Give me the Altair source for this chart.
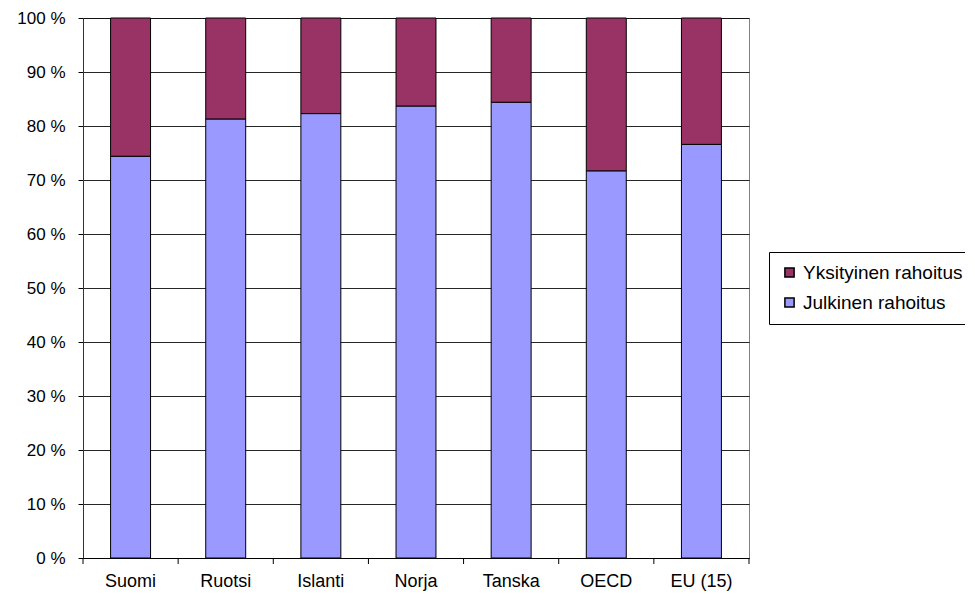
import altair as alt
import pandas as pd

maat = ["Suomi", "Ruotsi", "Islanti", "Norja", "Tanska", "OECD", "EU (15)"]
julkinen = [74.4, 81.3, 82.3, 83.7, 84.4, 71.7, 76.6]
yksityinen = [25.6, 18.7, 17.7, 16.3, 15.6, 28.3, 23.4]
sarjat = ["Yksityinen rahoitus", "Julkinen rahoitus"]
varit = ["#993366", "#9999FF"]
y_ticks = list(range(0, 101, 10))

rows = []
for m, j, y in zip(maat, julkinen, yksityinen):
    rows.append({"maa": m, "sarja": "Julkinen rahoitus", "arvo": j, "jarj": 0})
    rows.append({"maa": m, "sarja": "Yksityinen rahoitus", "arvo": y, "jarj": 1})
df = pd.DataFrame(rows)

FONT = "Liberation Sans"
W, H = 666, 540
P_IN, P_OUT = 0.58, 0.29
STEP = W / len(maat)
GAP = P_IN * STEP / 2  # half of the gap between bands, in pixels

xscale = alt.Scale(domain=maat, paddingInner=P_IN, paddingOuter=P_OUT)

bars = alt.Chart(df).mark_bar(stroke="black", strokeWidth=1).encode(
    x=alt.X("maa:N", sort=maat, title=None, scale=xscale,
            axis=alt.Axis(labelAngle=0, ticks=False,
                          labelFontSize=18, labelFont=FONT, labelColor="black",
                          domainColor="black", labelPadding=14, grid=False)),
    y=alt.Y("arvo:Q", stack="zero", title=None,
            scale=alt.Scale(domain=[0, 100], nice=False),
            axis=alt.Axis(values=y_ticks, labelExpr="datum.value + ' %'",
                          labelFontSize=17, labelFont=FONT, labelColor="black",
                          domainColor="#333333", tickColor="black", tickSize=5,
                          labelPadding=13, gridColor="black", gridOpacity=0.85)),
    color=alt.Color("sarja:N", scale=alt.Scale(domain=sarjat, range=varit),
                    legend=alt.Legend(title=None, orient="none", legendX=686, legendY=234,
                                      symbolType="square", symbolSize=85,
                                      symbolStrokeColor="black", symbolStrokeWidth=1.5,
                                      labelFontSize=19, labelFont=FONT, labelColor="black",
                                      strokeColor="black", padding=11, rowPadding=10,
                                      labelOffset=4, fillColor="white")),
    order=alt.Order("jarj:Q"),
)

ticks_df = pd.DataFrame({"maa": maat})
ticks_left = alt.Chart(ticks_df).mark_rule(color="black", strokeWidth=1, xOffset=-GAP).encode(
    x=alt.X("maa:N", sort=maat, scale=xscale, bandPosition=0, title=None),
    y=alt.value(H), y2=alt.value(H + 6),
)
ticks_end = alt.Chart(pd.DataFrame({"maa": maat[-1:]})).mark_rule(
    color="black", strokeWidth=1, xOffset=GAP).encode(
    x=alt.X("maa:N", sort=maat, scale=xscale, bandPosition=1, title=None),
    y=alt.value(H), y2=alt.value(H + 6),
)

chart = alt.layer(bars, ticks_left, ticks_end).properties(
    width=W, height=H,
    autosize=alt.AutoSizeParams(type="none"),
    padding={"left": 75, "top": 10, "right": 216, "bottom": 35},
).configure_view(stroke="#808080", strokeWidth=1)

chart.save("out.html", embed_options={"renderer": "svg", "actions": False})
